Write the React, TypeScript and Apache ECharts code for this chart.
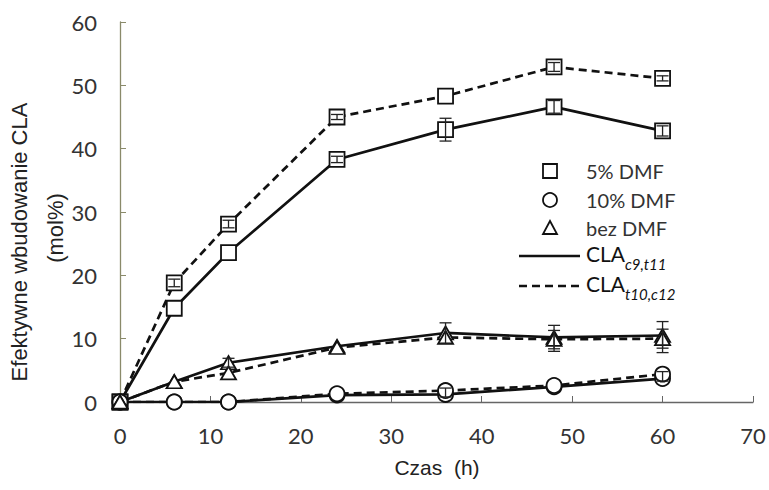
import React, { useEffect, useRef } from "react";
import * as echarts from "echarts";

// ---- data ----
const hours = [0, 6, 12, 24, 36, 48, 60];
const dmf5C9t11 = [0, 14.8, 23.6, 38.3, 43.0, 46.6, 42.8];
const dmf5T10c12 = [0, 18.8, 28.1, 45.0, 48.3, 52.9, 51.1];
const dmf10C9t11 = [0, 0, 0, 1.1, 1.2, 2.4, 3.7];
const dmf10T10c12 = [0, 0, 0, 1.3, 1.8, 2.6, 4.4];
const bezC9t11 = [0, 3.2, 6.2, 8.8, 10.9, 10.2, 10.5];
const bezT10c12 = [0, 3.2, 4.6, 8.6, 10.2, 9.9, 10.0];

// error bars: [hour, low, high]
const errDmf5C9t11 = [[24, 37.8, 38.8], [36, 41.2, 44.8], [48, 45.6, 47.6], [60, 42.0, 43.6]];
const errDmf5T10c12 = [[6, 18.2, 19.4], [12, 27.5, 28.7], [24, 44.6, 45.4], [48, 52.2, 53.6], [60, 50.7, 51.5]];
const errBezC9t11 = [[12, 5.5, 6.9], [36, 9.3, 12.5], [48, 8.0, 12.1], [60, 7.8, 12.7]];
const errBezT10c12 = [[48, 8.4, 11.3], [60, 8.5, 11.5]];
const errDmf10 = [[36, 0.8, 2.2], [60, 3.3, 4.8]];

const xTicks = { min: 0, max: 70, interval: 10 };
const yTicks = { min: 0, max: 60, interval: 10 };

const legendItems = ["5% DMF", "10% DMF", "bez DMF"];

function measure(text: string, font: string): number {
  const c = document.createElement("canvas").getContext("2d");
  if (!c) return text.length * 10;
  c.font = font;
  return c.measureText(text).width;
}

export default function App() {
  const ref = useRef<HTMLDivElement>(null);
  useEffect(() => {
    if (!ref.current) return;
    const chart = echarts.init(ref.current, undefined, { renderer: "svg" });
    const ink = "#111";
    const mk = (name: string, vals: number[], symbol: string, size: any, dashed: boolean) => ({
      name,
      type: "line",
      data: hours.map((h, i) => [h, vals[i]]),
      symbol,
      symbolSize: size,
      showAllSymbol: true,
      lineStyle: { color: ink, width: 2.7, type: dashed ? [8, 5] : "solid" },
      itemStyle: { color: "#fff", borderColor: ink, borderWidth: 1.8 },
      z: 3,
    });
    const errSeries = (data: number[][]) => ({
      type: "custom",
      data,
      z: 4,
      renderItem: (_p: any, api: any) => {
        const x = api.value(0);
        const lo = api.coord([x, api.value(1)]);
        const hi = api.coord([x, api.value(2)]);
        const w = 6;
        const st = { stroke: "#222", lineWidth: 1.3 };
        return {
          type: "group",
          children: [
            { type: "line", shape: { x1: lo[0], y1: lo[1], x2: hi[0], y2: hi[1] }, style: st },
            { type: "line", shape: { x1: lo[0] - w, y1: lo[1], x2: lo[0] + w, y2: lo[1] }, style: st },
            { type: "line", shape: { x1: hi[0] - w, y1: hi[1], x2: hi[0] + w, y2: hi[1] }, style: st },
          ],
        };
      },
    });

    const lx = 550;
    const ly = [171, 200, 228];
    const tickFont = "Lato";
    const claFont = "21px Lato";
    const claW = measure("CLA", claFont);

    const graphic: any[] = [
      { type: "rect", shape: { x: lx - 7, y: ly[0] - 7, width: 14, height: 14 }, style: { fill: "#fff", stroke: ink, lineWidth: 1.8 } },
      { type: "circle", shape: { cx: lx, cy: ly[1], r: 7 }, style: { fill: "#fff", stroke: ink, lineWidth: 1.8 } },
      { type: "polygon", shape: { points: [[lx, ly[2] - 7], [lx - 7, ly[2] + 6], [lx + 7, ly[2] + 6]] }, style: { fill: "#fff", stroke: ink, lineWidth: 1.8 } },
      ...legendItems.map((t, i) => ({
        type: "text",
        x: 586,
        y: ly[i],
        style: { text: t, font: "20px Lato", fill: "#333", verticalAlign: "middle", align: "left" },
      })),
      { type: "line", shape: { x1: 519, y1: 256, x2: 580, y2: 256 }, style: { stroke: ink, lineWidth: 2.7 } },
      { type: "line", shape: { x1: 519, y1: 286, x2: 580, y2: 286 }, style: { stroke: ink, lineWidth: 2.7, lineDash: [8, 5] } },
      { type: "text", x: 586, y: 253, style: { text: "CLA", font: claFont, fill: ink, verticalAlign: "middle" } },
      { type: "text", x: 586 + claW, y: 264, style: { text: "c9,t11", font: "italic 15px Lato", fill: ink, verticalAlign: "middle" } },
      { type: "text", x: 586, y: 283, style: { text: "CLA", font: claFont, fill: ink, verticalAlign: "middle" } },
      { type: "text", x: 586 + claW, y: 294, style: { text: "t10,c12", font: "italic 15px Lato", fill: ink, verticalAlign: "middle" } },
      { type: "text", x: 437, y: 467, style: { text: "Czas  (h)", font: "21px 'Liberation Sans'", fill: "#222", align: "center", verticalAlign: "middle" } },
      { type: "text", x: 19, y: 242, rotation: Math.PI / 2, style: { text: "Efektywne wbudowanie CLA", font: "22px 'Liberation Sans'", fill: "#222", align: "center", verticalAlign: "middle" } },
      { type: "text", x: 55, y: 228, rotation: Math.PI / 2, style: { text: "(mol%)", font: "22px 'Liberation Sans'", fill: "#222", align: "center", verticalAlign: "middle" } },
    ];

    chart.setOption({
      animation: false,
      backgroundColor: "#fff",
      grid: { left: 120, right: 16, top: 22, bottom: 88 },
      xAxis: {
        type: "value",
        ...xTicks,
        splitLine: { show: false },
        axisLine: { show: true, lineStyle: { color: "#666", width: 1.3 } },
        axisTick: { show: true, inside: true, length: 6, lineStyle: { color: "#666" } },
        axisLabel: { color: "#333", fontFamily: tickFont, fontSize: 22, margin: 22 },
      },
      yAxis: {
        type: "value",
        ...yTicks,
        splitLine: { show: false },
        axisLine: { show: true, lineStyle: { color: "#8a8a6a", width: 1.3 } },
        axisTick: { show: true, inside: true, length: 6, lineStyle: { color: "#8a8a6a" } },
        axisLabel: { color: "#333", fontFamily: tickFont, fontSize: 22, margin: 23 },
      },
      series: [
        mk("5% DMF c9", dmf5C9t11, "rect", 15, false),
        mk("5% DMF t10", dmf5T10c12, "rect", 15, true),
        mk("10% DMF c9", dmf10C9t11, "circle", 15, false),
        mk("10% DMF t10", dmf10T10c12, "circle", 15, true),
        mk("bez DMF c9", bezC9t11, "triangle", [15, 13], false),
        mk("bez DMF t10", bezT10c12, "triangle", [15, 13], true),
        errSeries(errDmf5C9t11),
        errSeries(errDmf5T10c12),
        errSeries(errBezC9t11),
        errSeries(errBezT10c12),
        errSeries(errDmf10),
      ],
      graphic,
    });
    return () => chart.dispose();
  }, []);
  return <div ref={ref} style={{ position: "absolute", left: 0, top: 0, width: 769, height: 490 }} />;
}
